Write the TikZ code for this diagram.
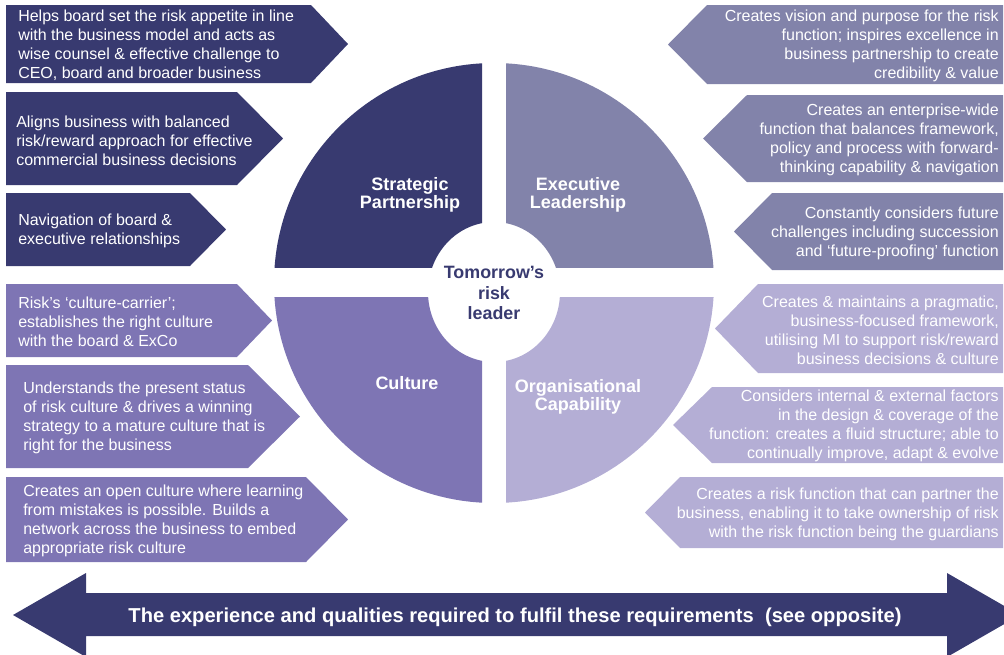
\documentclass[tikz,border=0pt]{standalone}
\usepackage{fontspec}
\setmainfont{Liberation Sans}
\definecolor{navy}{RGB}{56,58,112}
\definecolor{execgrey}{RGB}{130,131,170}
\definecolor{cultpurple}{RGB}{126,117,180}
\definecolor{orglilac}{RGB}{180,174,213}
\tikzset{
  bodytext/.style={inner sep=0.75pt, text=white, font=\fontsize{12}{14.3}\selectfont},
  quadlabel/.style={inner sep=0.75pt, text=white, align=center, font=\fontsize{13.5}{14}\selectfont\bfseries},
}
\begin{document}
\begin{tikzpicture}[x=0.75pt,y=0.75pt,yscale=-1,xscale=1]
\useasboundingbox (0,0) rectangle (1004,654);
\clip (0,0) rectangle (1004,654);
%Shape: Quarter ring [id:strategic]
\begin{scope}
\clip (260,50) rectangle (482,267);
\fill [navy, even odd rule] (494,283) circle [radius=220] (494,292) ellipse [x radius=66, y radius=70];
\end{scope}
%Shape: Quarter ring [id:executive]
\begin{scope}
\clip (506,50) rectangle (730,267);
\fill [execgrey, even odd rule] (494,283) circle [radius=220] (494,292) ellipse [x radius=66, y radius=70];
\end{scope}
%Shape: Quarter ring [id:culture]
\begin{scope}
\clip (260,297) rectangle (482,520);
\fill [cultpurple, even odd rule] (494,283) circle [radius=220] (494,292) ellipse [x radius=66, y radius=70];
\end{scope}
%Shape: Quarter ring [id:organisational]
\begin{scope}
\clip (506,297) rectangle (730,520);
\fill [orglilac, even odd rule] (494,283) circle [radius=220] (494,292) ellipse [x radius=66, y radius=70];
\end{scope}
%Shape: Pentagon [id:sp1]
\fill [navy] (6,5) -- (311,5) -- (348,44) -- (311,83) -- (6,83) -- cycle ;
%Shape: Pentagon [id:sp2]
\fill [navy] (6,92) -- (237,92) -- (283,138.5) -- (237,185) -- (6,185) -- cycle ;
%Shape: Pentagon [id:sp3]
\fill [navy] (6,193) -- (190,193) -- (226,229.5) -- (190,266) -- (6,266) -- cycle ;
%Shape: Pentagon [id:cu1]
\fill [cultpurple] (6,284) -- (237,284) -- (272,320.5) -- (237,357) -- (6,357) -- cycle ;
%Shape: Pentagon [id:cu2]
\fill [cultpurple] (6,365) -- (248,365) -- (300,416.5) -- (248,468) -- (6,468) -- cycle ;
%Shape: Pentagon [id:cu3]
\fill [cultpurple] (6,477) -- (306,477) -- (348,519.5) -- (306,562) -- (6,562) -- cycle ;
%Shape: Pentagon [id:el1]
\fill [execgrey] (1003,5) -- (707,5) -- (668,44.5) -- (707,84) -- (1003,84) -- cycle ;
%Shape: Pentagon [id:el2]
\fill [execgrey] (1003,95) -- (747,95) -- (703,138.5) -- (747,182) -- (1003,182) -- cycle ;
%Shape: Pentagon [id:el3]
\fill [execgrey] (1003,193) -- (772,193) -- (734,231.5) -- (772,270) -- (1003,270) -- cycle ;
%Shape: Pentagon [id:oc1]
\fill [orglilac] (1003,284) -- (758,284) -- (715,328.5) -- (758,373) -- (1003,373) -- cycle ;
%Shape: Pentagon [id:oc2]
\fill [orglilac] (1003,387) -- (712,387) -- (673,425) -- (712,463) -- (1003,463) -- cycle ;
%Shape: Pentagon [id:oc3]
\fill [orglilac] (1003,477) -- (680,477) -- (645,512.5) -- (680,548) -- (1003,548) -- cycle ;
%Shape: Double arrow [id:bar]
\fill [navy] (13,615) -- (86,573) -- (86,593) -- (947,593) -- (947,573) -- (1020,615) -- (947,657) -- (947,636) -- (86,636) -- (86,657) -- cycle ;
% Text Node
\draw (17,45) node [anchor=west][bodytext] [align=left] (sptext1) {Helps board set the risk appetite in line\\with the business model and acts as\\wise counsel \& effective challenge to\\CEO, board and broader business};
% Text Node
\draw (15,141) node [anchor=west][bodytext] [align=left] (sptext2) {Aligns business with balanced\\risk/reward approach for effective\\commercial business decisions};
% Text Node
\draw (17,231) node [anchor=west][bodytext] [align=left] (sptext3) {Navigation of board \&\\executive relationships};
% Text Node
\draw (17,322) node [anchor=west][bodytext] [align=left] (cutext1) {Risk’s ‘culture-carrier’;\\establishes the right culture\\with the board \& ExCo};
% Text Node
\draw (22,418) node [anchor=west][bodytext] [align=left] (cutext2) {Understands the present status\\of risk culture \& drives a winning\\strategy to a mature culture that is\\right for the business};
% Text Node
\draw (22,521) node [anchor=west][bodytext] [align=left] (cutext3) {Creates an open culture where learning\\from mistakes is possible. Builds a\\network across the business to embed\\appropriate risk culture};
% Text Node
\draw (1000,46) node [anchor=east][bodytext] [align=right] (eltext1) {Creates vision and purpose for the risk\\function; inspires excellence in\\business partnership to create\\credibility \& value};
% Text Node
\draw (1000,140) node [anchor=east][bodytext] [align=right] (eltext2) {Creates an enterprise-wide\\function that balances framework,\\policy and process with forward-\\thinking capability \& navigation};
% Text Node
\draw (1000,233) node [anchor=east][bodytext] [align=right] (eltext3) {Constantly considers future\\challenges including succession\\and ‘future-proofing’ function};
% Text Node
\draw (1000,330) node [anchor=east][bodytext] [align=right] (octext1) {Creates \& maintains a pragmatic,\\business-focused framework,\\utilising MI to support risk/reward\\business decisions \& culture};
% Text Node
\draw (1000,426) node [anchor=east][bodytext] [align=right] (octext2) {Considers internal \& external factors\\in the design \& coverage of the\\function: creates a fluid structure; able to\\continually improve, adapt \& evolve};
% Text Node
\draw (1000,514) node [anchor=east][bodytext] [align=right] (octext3) {Creates a risk function that can partner the\\business, enabling it to take ownership of risk\\with the risk function being the guardians};
% Text Node
\draw (410,195) node [quadlabel] (strategic) {Strategic\\Partnership};
% Text Node
\draw (578,195) node [quadlabel] (executive) {Executive\\Leadership};
% Text Node
\draw (407,383) node [quadlabel] (culture) {Culture};
% Text Node
\draw (578,397) node [quadlabel] (organisational) {Organisational\\Capability};
% Text Node
\draw (494,293) node [quadlabel, text=navy, font=\fontsize{13.4}{15.4}\selectfont\bfseries] (leader) {Tomorrow’s\\risk\\leader};
% Text Node
\draw (515,622.5) node [anchor=base][inner sep=0.75pt] [text=white, font=\fontsize{15.1}{18}\selectfont\bfseries] (bartext) {The experience and qualities required to fulfil these requirements\ \ (see opposite)};
\end{tikzpicture}
\end{document}
